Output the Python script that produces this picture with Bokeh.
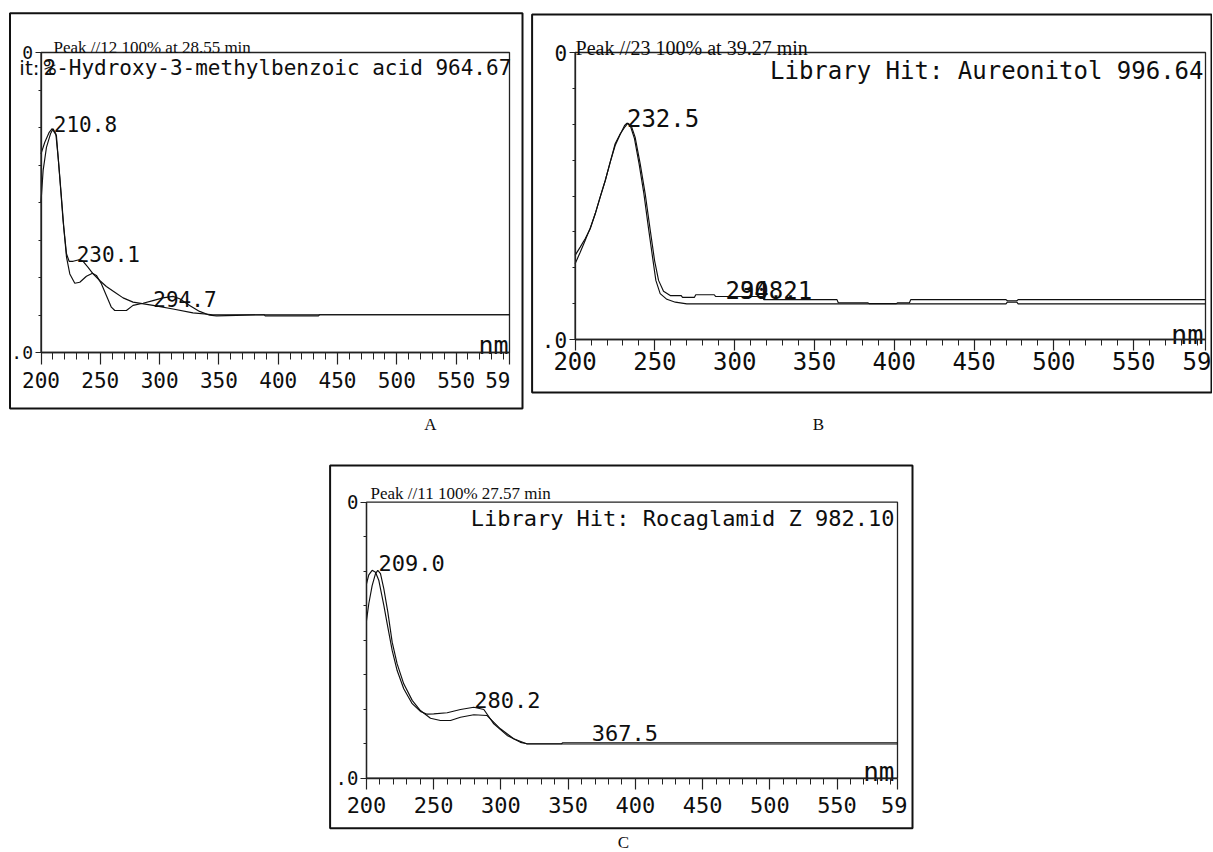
from bokeh.plotting import figure
from bokeh.models import Range1d, LinearAxis, FixedTicker, Spacer
from bokeh.layouts import column, row
from bokeh.core.properties import value
from bokeh.embed import file_html
from bokeh.resources import INLINE

# ---------------- shared axis definition ----------------
X_MIN, X_MAX = 200, 595
Y_MIN, Y_MAX = 0, 100
X_TICKS = [200, 250, 300, 350, 400, 450, 500, 550, 595]
X_MINOR_TICKS = [210, 220, 230, 240, 260, 270, 280, 290, 310, 320, 330, 340,
                 360, 370, 380, 390, 410, 420, 430, 440, 460, 470, 480, 490,
                 510, 520, 530, 540, 560, 570, 580, 590]
X_END_LABEL = "59"
Y_TICKS = [0, 100]
Y_MINOR_TICKS = [12.5, 25, 37.5, 50, 62.5, 75, 87.5]
Y_TICK_LABELS = {0: ".0", 100: "0"}
UNIT = "nm"

# ---------------- panel A ----------------
A_LETTER = "A"
A_TITLE = "Peak //12 100% at 28.55 min"
A_HIT_PREFIX = "it:"
A_HIT_OVERLAP = "%"
A_HIT = "2-Hydroxy-3-methylbenzoic acid 964.67"
A_PEAKS = ["210.8", "230.1", "294.7"]
A_SAMPLE_NM = [200, 201.8, 204.6, 208.0, 210.2, 212.5, 214.7, 217.0, 219.2, 221.5, 223.7,
               227.1, 232.1, 235.5, 239.7, 243.9, 249.5, 255.1, 262.2, 269.2, 277.6,
               294.4, 311.3, 328.1, 345.0, 595]
A_SAMPLE_ABS = [50.1, 60.7, 68.4, 72.9, 74.6, 72.9, 64.0, 52.9, 41.8, 32.9, 30.4,
                30.4, 30.9, 30.4, 28.4, 26.2, 24.0, 22.0, 20.1, 18.2, 16.8,
                15.7, 14.5, 13.2, 12.6, 12.6]
A_LIBRARY_NM = [200, 203.2, 206.9, 209.4, 213.0, 215.8, 218.6, 221.5, 224.3, 228.5, 232.7,
                238.3, 243.4, 246.7, 250.9, 255.1, 259.3, 262.2, 272.0, 277.6, 286.0,
                294.4, 302.8, 311.3, 316.9, 325.3, 333.7, 342.2, 348.0, 388.0, 389.0,
                434.0, 435.0, 595]
A_LIBRARY_ABS = [66.2, 70.1, 73.4, 74.6, 72.3, 58.4, 44.0, 31.8, 26.2, 23.1, 23.4,
                 25.4, 26.4, 25.7, 22.9, 19.0, 15.1, 14.0, 14.0, 15.7, 16.4,
                 17.3, 18.2, 18.7, 17.9, 15.7, 13.7, 12.4, 12.2, 12.6, 12.2,
                 12.2, 12.6, 12.6]

# ---------------- panel B ----------------
B_LETTER = "B"
B_TITLE = "Peak //23 100% at 39.27 min"
B_HIT = "Library Hit: Aureonitol 996.64"
B_PEAKS = ["232.5", "294.2", "308.1"]
B_SAMPLE_NM = [200, 203.2, 206.3, 209.5, 212.6, 215.7, 218.9, 222.0, 225.1, 228.3, 231.4,
               233.0, 235.1, 237.6, 240.8, 243.9, 247.1, 249.8, 252.3, 255.4, 259.6,
               266.5, 267.3, 274.8, 275.6, 287.2, 288.0, 317.4, 318.2, 364.1, 364.9,
               383.4, 384.2, 401.3, 402.1, 409.5, 410.3, 470.0, 470.8, 476.8, 477.6, 595]
B_SAMPLE_ABS = [29.3, 32.2, 35.1, 38.6, 43.8, 49.6, 55.4, 61.8, 68.2, 71.7, 74.2,
                75.4, 74.6, 70.5, 61.2, 50.8, 38.0, 27.5, 20.6, 16.8, 15.3,
                15.3, 14.7, 14.7, 15.6, 15.6, 15.0, 15.0, 13.9, 13.9, 12.8,
                12.8, 12.5, 12.5, 12.8, 12.8, 13.9, 13.9, 13.5, 13.5, 13.9, 13.9]
B_LIBRARY_NM = [200, 203.2, 206.3, 209.5, 212.6, 215.7, 218.9, 222.0, 225.1, 228.3, 231.0,
                232.5, 234.7, 237.2, 240.1, 243.1, 246.0, 248.5, 250.6, 253.3, 257.5,
                262.8, 270.0, 470.0, 470.8, 476.8, 477.6, 595]
B_LIBRARY_ABS = [26.4, 30.4, 34.5, 38.9, 43.8, 49.6, 55.4, 61.8, 67.6, 71.5, 74.6,
                 75.4, 74.3, 70.0, 61.2, 50.8, 38.7, 28.8, 20.6, 16.0, 14.0,
                 13.0, 12.4, 12.4, 13.0, 13.0, 12.4, 12.4]

# ---------------- panel C ----------------
C_LETTER = "C"
C_TITLE = "Peak //11 100% 27.57 min"
C_HIT = "Library Hit: Rocaglamid Z 982.10"
C_PEAKS = ["209.0", "280.2", "367.5"]
C_SAMPLE_NM = [200, 201.7, 204.2, 206.7, 209.2, 212.9, 215.4, 219.1, 222.8, 227.7, 234.0,
               240.1, 245.1, 250.0, 260.0, 269.9, 279.8, 287.3, 294.7, 304.6, 314.5,
               319.5, 345.0, 346.0, 595]
C_SAMPLE_ABS = [70.4, 73.7, 75.3, 74.6, 71.6, 62.6, 55.9, 46.3, 39.0, 32.4, 27.0,
                24.2, 23.2, 23.3, 23.7, 24.9, 25.7, 24.9, 19.7, 15.5, 13.0,
                12.5, 12.5, 12.85, 12.85]
C_LIBRARY_NM = [200, 201.7, 204.2, 206.7, 208.4, 210.4, 212.9, 215.9, 219.1, 222.8, 227.7,
                234.0, 240.1, 247.6, 255.0, 262.5, 269.9, 279.8, 289.7, 299.6, 309.5,
                319.5, 595]
C_LIBRARY_ABS = [57.1, 63.2, 69.8, 74.1, 75.3, 74.1, 68.6, 60.1, 49.3, 41.4, 34.2,
                 28.2, 24.5, 21.7, 20.9, 20.9, 22.1, 23.0, 22.7, 17.9, 14.3,
                 12.4, 12.4]

MONO = "DejaVu Sans Mono"
SANS = "DejaVu Sans"
SERIF = "Liberation Serif"
INK = "#0e0e0e"


def txt(p, x, y, s, font, size, align="left", baseline="alphabetic", dx=0):
    p.text(x=x if isinstance(x, list) else [x], y=y if isinstance(y, list) else [y],
           text=s if isinstance(s, list) else [s], text_font=value(font),
           text_font_size=f"{size}px", text_align=align, text_baseline=baseline,
           x_offset=dx, text_color=INK)


def panel(W, H, cx200, cx595, cy100, cy0, box, letter, letter_pos, fs, yfs,
          x_out, x_minor_out, x_standoff, end_dx):
    kx = (cx595 - cx200) / (X_MAX - X_MIN)
    ky = (cy0 - cy100) / (Y_MAX - Y_MIN)
    x0 = X_MIN - cx200 / kx
    y1 = Y_MAX + cy100 / ky

    def fx(c):
        return x0 + c / kx

    def fy(c):
        return y1 - c / ky

    p = figure(width=W, height=H, x_range=Range1d(x0, fx(W)), y_range=Range1d(fy(H), y1),
               x_axis_type=None, y_axis_type=None, toolbar_location=None,
               output_backend="svg", min_border=0, outline_line_color=None,
               background_fill_color="white", border_fill_color="white")
    # outer frame of the panel
    p.quad(left=[fx(box[0])], right=[fx(box[2])], top=[fy(box[1])], bottom=[fy(box[3])],
           fill_color=None, line_color="#111111", line_width=2)
    # plot-area frame
    p.quad(left=[X_MIN], right=[X_MAX], bottom=[Y_MIN], top=[Y_MAX],
           fill_color=None, line_color="#222222", line_width=1.3)

    xa = LinearAxis(fixed_location=Y_MIN, bounds=(X_MIN, X_MAX),
                    ticker=FixedTicker(ticks=X_TICKS, minor_ticks=X_MINOR_TICKS),
                    major_label_overrides={X_MAX: ""})
    ya = LinearAxis(fixed_location=X_MIN, bounds=(Y_MIN, Y_MAX),
                    ticker=FixedTicker(ticks=Y_TICKS, minor_ticks=Y_MINOR_TICKS),
                    major_label_overrides=Y_TICK_LABELS)
    for ax in (xa, ya):
        ax.axis_line_color = "#222222"
        ax.axis_line_width = 1.3
        ax.major_tick_line_color = "#222222"
        ax.minor_tick_line_color = "#222222"
        ax.major_tick_line_width = 1.2
        ax.minor_tick_line_width = 1
        ax.major_tick_in = 0
        ax.minor_tick_in = 0
        ax.major_label_text_font = MONO
        ax.major_label_text_color = INK
    xa.major_label_text_font_size = f"{fs}px"
    ya.major_label_text_font_size = f"{yfs}px"
    xa.major_tick_out = x_out
    xa.minor_tick_out = x_minor_out
    xa.major_label_standoff = x_standoff
    ya.major_tick_out = 6
    ya.minor_tick_out = 3
    ya.major_label_standoff = 2
    p.add_layout(xa, "below")
    p.add_layout(ya, "left")

    txt(p, X_MAX, fy(cy0 + x_out + x_standoff), X_END_LABEL, MONO, fs,
        align="right", baseline="top", dx=end_dx)
    txt(p, fx(letter_pos[0]), fy(letter_pos[1]), letter, SERIF, 17,
        align="center", baseline="middle")
    return p, kx


CURVE = dict(line_color=INK, line_width=1.15)

# ---------------- A ----------------
pA, kA = panel(526, 436, 40.5, 509, 52, 352, (9.5, 12.7, 522, 408), A_LETTER, (430, 424),
               21, 18, 12, 7, 7, 1)
pA.line(A_SAMPLE_NM, A_SAMPLE_ABS, **CURVE)
pA.line(A_LIBRARY_NM, A_LIBRARY_ABS, **CURVE)
txt(pA, 210.5, 101.7, A_TITLE, SERIF, 17)
txt(pA, 202.1, 95.0, A_HIT_PREFIX, SANS, 20, align="right", dx=-4)
txt(pA, 202.1, 95.0, A_HIT_OVERLAP, MONO, 21)
txt(pA, 202.1, 95.0, A_HIT, MONO, 21)
txt(pA, [float(s) for s in A_PEAKS], [76.3, 33.0, 18.0], A_PEAKS, MONO, 21)
txt(pA, X_MAX, 2.3, UNIT, MONO, 25, align="right", dx=-1)

# ---------------- B ----------------
pB, kB = panel(686, 436, 48.6, 679, 52, 339, (5.6, 14, 685, 392), B_LETTER, (292, 424),
               24, 21, 11, 6, 1, 6)
pB.line(B_SAMPLE_NM, B_SAMPLE_ABS, **CURVE)
pB.line(B_LIBRARY_NM, B_LIBRARY_ABS, **CURVE)
txt(pB, 200.3, 101.7, B_TITLE, SERIF, 20)
txt(pB, X_MAX, 93.4, B_HIT, MONO, 24, align="right", dx=-2)
# the second peak label is printed one character to the right of the first one
B_CHAR_NM = 0.602 * 24 / kB
txt(pB, [232.5, 294.2, 294.2 + B_CHAR_NM], [77.2, 17.1, 17.1], B_PEAKS, MONO, 24)
txt(pB, X_MAX, 1.7, UNIT, MONO, 27, align="right", dx=-2)

# ---------------- C ----------------
pC, kC = panel(600, 415, 46, 577, 65.7, 341.7, (9.6, 29, 592, 391.7), C_LETTER, (303, 406),
               22, 19, 11, 6, 8, 10)
pC.line(C_SAMPLE_NM, C_SAMPLE_ABS, **CURVE)
pC.line(C_LIBRARY_NM, C_LIBRARY_ABS, **CURVE)
txt(pC, 203.0, 103.2, C_TITLE, SERIF, 17)
txt(pC, X_MAX, 94.0, C_HIT, MONO, 22, align="right", dx=-3)
txt(pC, [float(s) for s in C_PEAKS], [77.8, 28.2, 16.2], C_PEAKS, MONO, 22)
txt(pC, X_MAX, 2.1, UNIT, MONO, 26, align="right", dx=-3)

layout = column(row(pA, pB), row(Spacer(width=320, height=415), pC))
open("out.html", "w").write(file_html(layout, INLINE))
